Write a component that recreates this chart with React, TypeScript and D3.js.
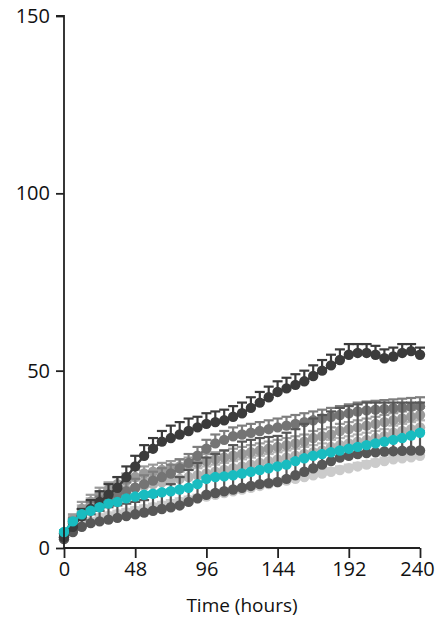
import React, { useEffect, useRef } from "react";
import * as d3 from "d3";

const times = [0,6,12,18,24,30,36,42,48,54,60,66,72,78,84,90,96,102,108,114,120,126,132,138,144,150,156,162,168,174,180,186,192,198,204,210,216,222,228,234,240];

const yTicks = [0, 50, 100, 150];
const xTicks = [0, 48, 96, 144, 192, 240];

const lightestMean = [3,5,6.5,7.5,8.5,9,9.5,10,10.5,11,11.5,12,12.5,13,13.5,14,14.5,15,15.5,16,16.5,17,17.5,18,18.5,19,19.5,20,20.5,21,21.5,22,22.5,23,23.5,24,24.5,25,25.3,25.6,26];
const lightestErr = [1,1,1,1,1,1,1,1,1,1,1,1,1,1,1,1,1,1,1,1,1,1,1,1,1,1,1,1,1,1,1,1,1,1,1,1,1,1,1,1,1];

const light2Mean = [4,7.5,10,12,13.5,14.5,15.5,16.5,17,17.5,18,18.5,19,19.5,20,20.5,21,21.5,22,22.5,23,23.5,24,24.5,25,25.5,26,26.5,27,27.5,28.5,29,29.5,30,30.5,31,31.5,32.5,33,33.5,34];
const light2Err = [1,1.5,2,2,2,2,2,2,2,2,2,2,2,2,2,2,2,2,2,2,2,2,2,2,2,2,2,2,2,2,2,2,2,2,2,2,2,2,2,2,2];

const light1Mean = [4,8,11,13,15,16.5,18,19,20,21,21.5,22,22.5,23,23.5,24,24.5,25,25.5,26,26.5,27,27.5,28,28.5,29,29.5,30,31,31.5,32,33,33.5,34,34.5,35,35.5,36,36.5,37,37.5];
const light1Err = [1,1.5,2,2,2,2,2,2,2,2,2,2,2,2,2,2,2,2,2,2,2,2,2,2,2,2,2,2,2,2,2,2,2,2,2,2,2,2,2,2,2];

const midMean = [4,7,9,11,12.5,14,15,16,17,18,19,20,21,22.5,24,26,28,29.5,30.5,31.5,32,32.5,33,33.5,34,34.5,35,35.5,36,36.5,37,37.5,38,38.5,38.8,39,39.2,39.4,39.6,39.8,40];
const midErr = [1,1.5,2,2,2,2,2.5,2.5,2.5,2.5,2.5,2.5,2.5,2.5,2.5,2.5,2.5,2.5,2.5,2.5,2.5,2.5,2.5,2.5,2.5,2.5,2.5,2.5,2.5,2.5,2.5,2.5,2.5,2.5,2.5,2.5,2.5,2.5,2.5,2.5,2.5];

const lowMean = [2.5,4.5,6,7,7.5,8,8.5,9,9.5,10,10.5,11,11.5,12,13,14,15,15.5,16,16.5,17,17.5,18,18.3,18.6,19.5,20.5,21.5,22.5,23.5,24.5,25.5,26,26.5,26.8,27,27.2,27.3,27.4,27.5,27.5];
const lowErr = [1,1.5,2,2.5,3,3.5,3.5,3.5,3.5,3.5,4,5,6.5,8,9,10,10.5,11,11.5,12.5,13,13,13,13,13,13,13,13.5,14,14,14,14,14,14,14.2,14,13.8,13.7,13.6,13.5,13.5];

const darkMean = [3,6,9,11,13,15,17,20,23,26,28,30,31,32,33,34,35,35.5,36,37,38,39.5,41,42.5,44,45,46,47,48.5,50,51.5,53,54.5,55,55,54.5,53.5,54,55,55.5,54.5];
const darkErr = [1,1.5,2,2.5,3,3,3,3,3,3,3,3,3.5,3.5,3.5,3,3,3,3,3,3,3,3,3,3,3,3,3,3,3,3,3,3,2.5,2.5,2.5,2.5,2.5,2.5,2,2];

const tealMean = [4.5,7.5,9.5,10.5,11.5,12.5,13,14,14.5,15,15.3,15.7,16,16.5,17,18,19.5,20,20.2,20.5,21,21.5,22,22.5,23,23.5,24.5,25.3,26,26.5,27,27.5,28,28.5,29,29.5,30,30.5,31,31.7,32.5];
const tealErr = [0.5,0.5,0.5,0.5,0.5,0.5,0.5,0.5,0.5,0.5,0.5,0.5,0.5,0.5,0.5,0.5,0.5,0.5,0.5,0.5,0.5,0.5,0.5,0.5,0.5,0.5,0.5,0.5,0.5,0.5,0.5,0.5,0.5,0.5,0.5,0.5,0.5,0.5,0.5,0.5,0.5];

const seriesList = [
  { name: "lightest", mean: lightestMean, err: lightestErr, color: "#cbcbcb", barColor: "#cbcbcb" },
  { name: "light2", mean: light2Mean, err: light2Err, color: "#b3b3b3", barColor: "#b3b3b3" },
  { name: "light1", mean: light1Mean, err: light1Err, color: "#9a9a9a", barColor: "#9a9a9a" },
  { name: "mid", mean: midMean, err: midErr, color: "#747474", barColor: "#7e7e7e" },
  { name: "low", mean: lowMean, err: lowErr, color: "#575757", barColor: "#575757" },
  { name: "dark", mean: darkMean, err: darkErr, color: "#3b3b3b", barColor: "#3b3b3b" },
  { name: "teal", mean: tealMean, err: tealErr, color: "#19bcc0", barColor: "#19bcc0" },
];

export default function App() {
  const ref = useRef<SVGSVGElement>(null);
  useEffect(() => {
    const svg = d3.select(ref.current);
    svg.selectAll("*").remove();
    const x = d3.scaleLinear().domain([0, 240]).range([64, 420]);
    const y = d3.scaleLinear().domain([0, 150]).range([548, 16]);
    const font = "'Open Sans', 'DejaVu Sans', sans-serif";

    const plot = svg.append("g");
    seriesList.forEach((s) => {
      const g = plot.append("g");
      const pts = times.map((t, i) => ({ t, m: s.mean[i], e: s.err[i] }));
      pts.forEach((p) => {
        g.append("line")
          .attr("x1", x(p.t)).attr("x2", x(p.t))
          .attr("y1", y(p.m)).attr("y2", y(p.m + p.e))
          .attr("stroke", s.barColor).attr("stroke-width", 2.2);
        g.append("line")
          .attr("x1", x(p.t) - 5).attr("x2", x(p.t) + 5)
          .attr("y1", y(p.m + p.e)).attr("y2", y(p.m + p.e))
          .attr("stroke", s.barColor).attr("stroke-width", 2.2);
      });
      const line = d3.line<{ t: number; m: number }>().x((d) => x(d.t)).y((d) => y(d.m));
      g.append("path").attr("d", line(pts) as string)
        .attr("fill", "none").attr("stroke", s.color).attr("stroke-width", 2.5);
      g.selectAll("circle").data(pts).enter().append("circle")
        .attr("cx", (d) => x(d.t)).attr("cy", (d) => y(d.m)).attr("r", 5.2)
        .attr("fill", s.color);
    });

    const yAxis = d3.axisLeft(y).tickValues(yTicks).tickSize(8).tickPadding(6).tickFormat(d3.format("d") as any);
    const ya = svg.append("g").attr("transform", "translate(64,0)").call(yAxis);
    ya.select(".domain").attr("stroke", "#222").attr("stroke-width", 1.8).attr("d", "M-8,16H0V548");
    ya.selectAll(".tick line").attr("stroke", "#222").attr("stroke-width", 1.8);
    ya.selectAll(".tick text").attr("font-size", 20).attr("font-family", font).attr("fill", "#111");

    const xAxis = d3.axisBottom(x).tickValues(xTicks).tickSize(10).tickPadding(4).tickFormat(d3.format("d") as any);
    const xa = svg.append("g").attr("transform", "translate(0,548)").call(xAxis);
    xa.select(".domain").attr("stroke", "#222").attr("stroke-width", 1.8).attr("d", "M64,0H420");
    xa.selectAll(".tick line").attr("stroke", "#222").attr("stroke-width", 1.8);
    xa.selectAll(".tick text").attr("font-size", 20).attr("font-family", font).attr("fill", "#111")
      .attr("dx", (d: any) => (d === 240 ? -3 : 0));

    svg.append("text").attr("x", 242).attr("y", 612).attr("text-anchor", "middle")
      .attr("font-size", 19).attr("font-family", font).attr("fill", "#111").text("Time (hours)");
  }, []);
  return (
    <svg ref={ref} width={436} height={620} style={{ position: "absolute", left: 0, top: 0, background: "#fff" }} />
  );
}
